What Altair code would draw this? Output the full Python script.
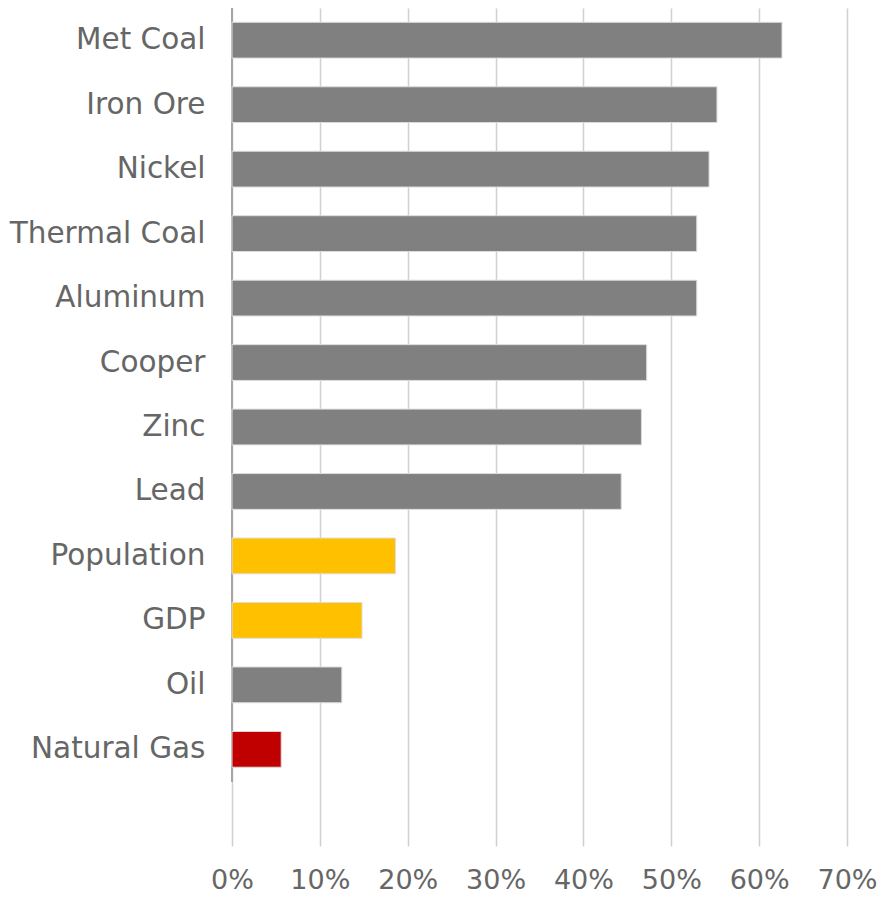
import altair as alt
import pandas as pd

categories = ["Met Coal", "Iron Ore", "Nickel", "Thermal Coal", "Aluminum", "Cooper",
              "Zinc", "Lead", "Population", "GDP", "Oil", "Natural Gas"]
values = [0.626, 0.552, 0.543, 0.529, 0.529, 0.472, 0.466, 0.443, 0.186, 0.148, 0.125, 0.056]
groups = ["commodity"] * 8 + ["macro", "macro", "commodity", "gas"]

group_names = ["commodity", "macro", "gas"]
group_colors = ["#808080", "#FFC000", "#C00000"]

df = pd.DataFrame({"name": categories, "value": values, "group": groups})

W, H = 615, 838
domain = categories + [" "]
FONT = "DejaVu Sans"
TXT = "#666666"

bars = alt.Chart(df).mark_bar(stroke="#dcdcdc", strokeWidth=1).encode(
    x=alt.X("value:Q", scale=alt.Scale(domain=[0, 0.7], nice=False),
            axis=alt.Axis(format=".0%", values=[0, 0.1, 0.2, 0.3, 0.4, 0.5, 0.6, 0.7],
                          title=None, domain=False, ticks=False, grid=True,
                          gridColor="#d0d0d0", gridWidth=1.5,
                          labelFont=FONT, labelFontSize=27, labelColor=TXT,
                          labelPadding=21, labelFlush=False)),
    y=alt.Y("name:N", sort=domain, scale=alt.Scale(domain=domain, paddingInner=0.445, paddingOuter=0.222),
            axis=alt.Axis(title=None, domain=False, ticks=False, labelFont=FONT,
                          labelFontSize=29.5, labelColor=TXT, labelPadding=27,
                          minExtent=224, maxExtent=224, labelLimit=300)),
    color=alt.Color("group:N", scale=alt.Scale(domain=group_names, range=group_colors), legend=None),
)

axis_line = alt.Chart(df).mark_rule(color="#a6a6a6", strokeWidth=1.5).encode(
    x=alt.value(0), y=alt.value(0), y2=alt.value(H * 12 / 13)
)

chart = (axis_line + bars).properties(
    width=W, height=H,
    autosize=alt.AutoSizeParams(type="none"),
    padding={"left": 224, "top": 0, "right": 30, "bottom": 52},
).configure_view(stroke=None)

chart.save("out.html", embed_options={"renderer": "svg", "actions": False})
